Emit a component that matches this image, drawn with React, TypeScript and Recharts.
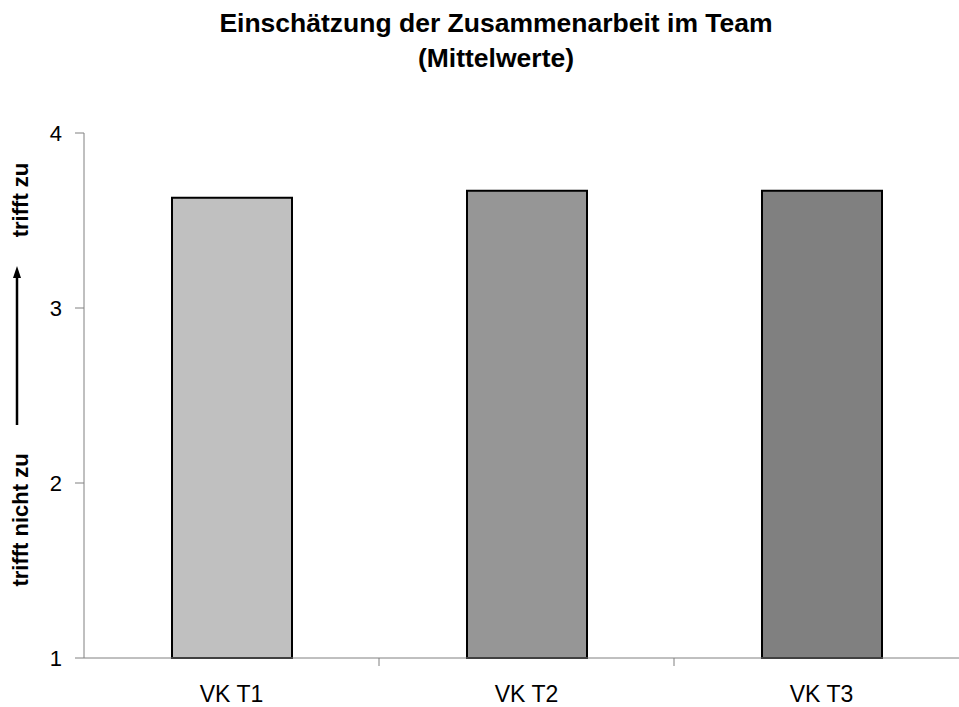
import { Bar, BarChart, Cell, Label, XAxis, YAxis } from 'recharts'

const categories = ['VK T1', 'VK T2', 'VK T3']
const means = [3.63, 3.67, 3.67]
const barColors = ['#c0c0c0', '#969696', '#808080']
const yTicks = [1, 2, 3, 4]
const titleLines = ['Einschätzung der Zusammenarbeit im Team', '(Mittelwerte)']

const data = categories.map((name, i) => ({ name, value: means[i] }))

const FONT = '"Liberation Sans", Arial, sans-serif'
const CHART_W = 975
const PLOT_LEFT = 84
const PLOT_RIGHT = 969
const BAND = (PLOT_RIGHT - PLOT_LEFT) / categories.length

// Excel-style: ticks sit between categories, labels in the middle
const CategoryTick = ({ x, y, payload, index }: any) => (
  <g>
    {index < categories.length - 1 && (
      <line x1={x + BAND / 2} y1={y} x2={x + BAND / 2} y2={y + 8} stroke="#808080" />
    )}
    <text x={x} y={y + 44} textAnchor="middle" fontSize={23} fontFamily={FONT} fill="#000">
      {payload.value}
    </text>
  </g>
)

const AxisCaption = () => (
  <g fontFamily={FONT} fontWeight="bold" fontSize={22} fill="#000">
    <defs>
      <marker id="arrowHead" markerWidth="12" markerHeight="8" refX="2" refY="4" orient="auto" markerUnits="userSpaceOnUse">
        <path d="M0,0 L12,4 L0,8 z" fill="#000" />
      </marker>
    </defs>
    <text transform="translate(28,520) rotate(-90)" textAnchor="middle">
      trifft nicht zu
    </text>
    <line x1={17} y1={425} x2={17} y2={276} stroke="#000" strokeWidth={2.5} markerEnd="url(#arrowHead)" />
    <text transform="translate(28,200) rotate(-90)" textAnchor="middle">
      trifft zu
    </text>
  </g>
)

export default function App() {
  return (
    <div style={{ position: 'relative', width: 959, height: 707, overflow: 'hidden', background: '#fff' }}>
      <style>{'body{margin:0}'}</style>
      <svg width={959} height={90} style={{ position: 'absolute', left: 0, top: 0 }}>
        {titleLines.map((t, i) => (
          <text
            key={t}
            x={496}
            y={32 + i * 35}
            textAnchor="middle"
            fontFamily={FONT}
            fontWeight="bold"
            fontSize={26.5}
            fill="#000"
          >
            {t}
          </text>
        ))}
      </svg>
      <BarChart
        width={CHART_W}
        height={707}
        data={data}
        margin={{ top: 133, right: CHART_W - PLOT_RIGHT, bottom: 0, left: 24 }}
        style={{ position: 'absolute', left: 0, top: 0 }}
      >
        <XAxis
          dataKey="name"
          height={49}
          stroke="#808080"
          tickSize={0}
          tickMargin={0}
          tickLine={false}
          tick={<CategoryTick />}
        />
        <YAxis
          width={60}
          domain={[1, 4]}
          ticks={yTicks}
          stroke="#808080"
          tickSize={9}
          tickMargin={13}
          tick={{ fill: '#000', fontSize: 22, fontFamily: FONT }}
        >
          <Label content={<AxisCaption />} />
        </YAxis>
        <Bar dataKey="value" barSize={120} stroke="#000" strokeWidth={2} isAnimationActive={false}>
          {data.map((d, i) => (
            <Cell key={d.name} fill={barColors[i]} />
          ))}
        </Bar>
      </BarChart>
    </div>
  )
}
